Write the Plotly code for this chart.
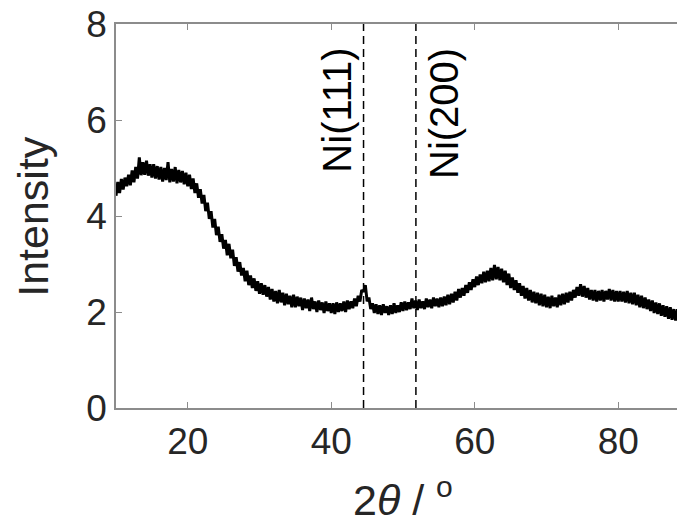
import numpy as np
import plotly.graph_objects as go

# 2-theta grid (degrees), 0.25 step
two_theta = np.arange(10, 90.001, 0.25)

# intensity (20 points per 5 degrees)
intensity = [
    4.42, 4.71, 4.48, 4.77, 4.55, 4.80, 4.62, 4.86, 4.64, 4.95, 4.70, 5.02, 4.78, 5.22, 4.85, 5.12, 4.86, 5.15, 4.84, 5.08,
    4.80, 5.08, 4.78, 5.04, 4.76, 5.02, 4.72, 5.00, 4.75, 5.12, 4.70, 4.98, 4.72, 5.02, 4.68, 4.96, 4.70, 4.94, 4.66, 4.90,
    4.62, 4.86, 4.56, 4.78, 4.48, 4.68, 4.38, 4.56, 4.26, 4.44, 4.10, 4.28, 3.94, 4.10, 3.76, 3.94, 3.60, 3.78, 3.46, 3.62,
    3.32, 3.50, 3.18, 3.42, 3.12, 3.30, 2.96, 3.14, 2.84, 3.04, 2.76, 2.92, 2.64, 2.86, 2.56, 2.76, 2.50, 2.70, 2.44, 2.64,
    2.38, 2.60, 2.36, 2.56, 2.32, 2.52, 2.26, 2.48, 2.22, 2.44, 2.18, 2.46, 2.20, 2.40, 2.14, 2.38, 2.16, 2.34, 2.10, 2.36,
    2.10, 2.32, 2.12, 2.30, 2.04, 2.28, 2.08, 2.26, 2.02, 2.30, 2.06, 2.22, 2.00, 2.24, 2.04, 2.20, 1.98, 2.22, 2.02, 2.18,
    1.98, 2.18, 1.96, 2.20, 2.00, 2.18, 2.02, 2.22, 2.00, 2.24, 2.06, 2.22, 2.08, 2.28, 2.12, 2.34, 2.22, 2.46, 2.42, 2.56,
    2.22, 2.30, 2.06, 2.18, 1.98, 2.16, 1.96, 2.14, 1.94, 2.16, 1.98, 2.12, 1.94, 2.14, 1.96, 2.18, 1.98, 2.14, 2.00, 2.20,
    2.02, 2.22, 2.04, 2.20, 2.06, 2.28, 2.08, 2.24, 2.04, 2.26, 2.08, 2.22, 2.06, 2.28, 2.10, 2.26, 2.08, 2.30, 2.12, 2.28,
    2.10, 2.30, 2.12, 2.32, 2.14, 2.36, 2.16, 2.38, 2.20, 2.42, 2.24, 2.48, 2.30, 2.50, 2.34, 2.56, 2.40, 2.62, 2.46, 2.68,
    2.52, 2.74, 2.56, 2.78, 2.60, 2.84, 2.62, 2.86, 2.64, 2.92, 2.66, 2.98, 2.68, 2.94, 2.66, 2.90, 2.62, 2.86, 2.56, 2.80,
    2.50, 2.72, 2.46, 2.66, 2.40, 2.60, 2.34, 2.54, 2.28, 2.50, 2.24, 2.46, 2.20, 2.42, 2.18, 2.40, 2.14, 2.38, 2.12, 2.36,
    2.10, 2.32, 2.08, 2.34, 2.12, 2.30, 2.10, 2.36, 2.14, 2.38, 2.16, 2.40, 2.20, 2.42, 2.24, 2.46, 2.30, 2.52, 2.34, 2.58,
    2.32, 2.54, 2.30, 2.50, 2.26, 2.46, 2.24, 2.46, 2.22, 2.44, 2.24, 2.46, 2.22, 2.44, 2.26, 2.48, 2.24, 2.46, 2.22, 2.44,
    2.22, 2.44, 2.22, 2.42, 2.20, 2.44, 2.18, 2.40, 2.16, 2.40, 2.14, 2.36, 2.10, 2.34, 2.08, 2.30, 2.06, 2.26, 2.02, 2.24,
    1.98, 2.20, 1.96, 2.18, 1.92, 2.14, 1.90, 2.12, 1.86, 2.10, 1.84, 2.06, 1.82, 2.06, 1.80, 2.02, 1.78, 2.00, 1.76, 1.98,
    1.84,
]

# reference peak positions; Ni(111) label left of its line, Ni(200) right
peak_names = ["Ni(111)", "Ni(200)"]
peak_pos = [44.5, 51.8]
label_side = ["right", "left"]

x_ticks = [20, 40, 60, 80]
y_ticks = [0, 2, 4, 6, 8]

FONT = "Liberation Sans, Arial, sans-serif"
AXIS_GREY = "#8c8c8c"
TICK_SIZE = 37
TITLE_SIZE = 43
NI_SIZE = 40

fig = go.Figure()

fig.add_trace(go.Scatter(
    x=two_theta,
    y=intensity,
    mode="lines",
    line=dict(color="black", width=3),
    showlegend=False,
))

for name, pos, side in zip(peak_names, peak_pos, label_side):
    fig.add_trace(go.Scatter(
        x=[pos, pos],
        y=[0, 8],
        mode="lines",
        line=dict(color="black", width=1.5, dash="8px,5px"),
        showlegend=False,
    ))
    fig.add_annotation(
        x=pos, y=7.55,
        xref="x", yref="y",
        text=name,
        textangle=-90,
        showarrow=False,
        xanchor=side, yanchor="top",
        xshift=-2 if side == "right" else 4,
        font=dict(family=FONT, size=NI_SIZE, color="black"),
    )

# axis titles as annotations so they sit where the original has them
fig.add_annotation(
    x=-0.145, y=0.5, xref="paper", yref="paper",
    text="Intensity", textangle=-90, showarrow=False,
    xanchor="center", yanchor="middle", borderpad=0,
    font=dict(family=FONT, size=TITLE_SIZE, color="#262626"),
)
fig.add_annotation(
    x=0.5, y=-0.232, xref="paper", yref="paper",
    text="2<i>θ</i> / <sup>o</sup>", showarrow=False,
    xanchor="center", yanchor="middle", borderpad=0,
    font=dict(family=FONT, size=TITLE_SIZE, color="#262626"),
)

fig.update_layout(
    width=685,
    height=523,
    margin=dict(l=108, r=3, t=16, b=123),
    plot_bgcolor="white",
    paper_bgcolor="white",
    font=dict(family=FONT, size=TICK_SIZE, color="#262626"),
)

fig.update_xaxes(
    range=[10, 90],
    tickvals=x_ticks,
    ticks="inside",
    ticklen=6,
    tickcolor=AXIS_GREY,
    showline=True,
    linecolor=AXIS_GREY,
    linewidth=1.5,
    mirror="ticks",
    showgrid=False,
    zeroline=False,
    automargin=False,
    ticklabeloverflow="allow",
    tickfont=dict(size=TICK_SIZE),
)

fig.update_yaxes(
    range=[0, 8],
    tickvals=y_ticks,
    ticks="inside",
    ticklen=6,
    tickcolor=AXIS_GREY,
    showline=True,
    linecolor=AXIS_GREY,
    linewidth=1.5,
    mirror="ticks",
    showgrid=False,
    zeroline=False,
    automargin=False,
    ticklabeloverflow="allow",
    tickfont=dict(size=TICK_SIZE),
)

fig.write_html("out.html")
